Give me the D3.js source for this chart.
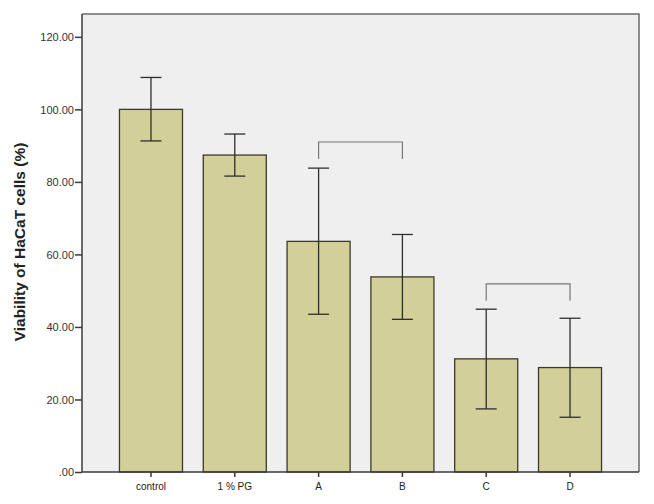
<!DOCTYPE html>
<html>
<head>
<meta charset="utf-8">
<script src="https://cdn.jsdelivr.net/npm/d3@7"></script>
<style>
  html, body { margin: 0; padding: 0; background: #ffffff; }
  svg { display: block; }
</style>
</head>
<body>
<svg id="chart" width="654" height="504"></svg>
<script>
// ---- data ----
const categories = ["control", "1 % PG", "A", "B", "C", "D"];
const means      = [100.0, 87.4, 63.6, 53.8, 31.2, 28.8];
const errUpper   = [108.8, 93.2, 83.8, 65.5, 44.9, 42.4];
const errLower   = [91.3, 81.6, 43.5, 42.1, 17.4, 15.1];
const yTicks     = [0, 20, 40, 60, 80, 100, 120];
const yTickLabels = [".00", "20.00", "40.00", "60.00", "80.00", "100.00", "120.00"];
const brackets = [
  { from: "A", to: "B", top: 91.0, bottom: 86.3 },
  { from: "C", to: "D", top: 51.9, bottom: 47.2 }
];
const yLabel = "Viability of HaCaT cells (%)";

// ---- layout ----
const svg = d3.select("#chart");
const pL = 82, pR = 639, pT = 14, pB = 472;

const x = d3.scaleBand().domain(categories).range([pL, pR])
  .paddingInner(0.248).paddingOuter(0.447);
const y = d3.scaleLinear().domain([0, 126.3]).range([pB, pT]);

// plot background
svg.append("rect").attr("x", pL).attr("y", pT)
  .attr("width", pR - pL).attr("height", pB - pT)
  .attr("fill", "#efefef").attr("stroke", "none");

// top/right border
svg.append("path")
  .attr("d", `M${pL},${pT}H${pR}V${pB}`)
  .attr("fill", "none").attr("stroke", "#6a6a6a").attr("stroke-width", 1.5);

// bars
svg.append("g").selectAll("rect").data(categories).join("rect")
  .attr("x", d => x(d))
  .attr("y", (d, i) => y(means[i]))
  .attr("width", x.bandwidth())
  .attr("height", (d, i) => y(0) - y(means[i]))
  .attr("fill", "#d2cf98")
  .attr("stroke", "#3b3a2c").attr("stroke-width", 1.3);

// error bars
const capW = 21;
const eg = svg.append("g").attr("stroke", "#2e2e2e").attr("stroke-width", 1.3).attr("fill", "none");
categories.forEach((c, i) => {
  const cx = x(c) + x.bandwidth() / 2;
  eg.append("line").attr("x1", cx).attr("x2", cx).attr("y1", y(errUpper[i])).attr("y2", y(errLower[i]));
  eg.append("line").attr("x1", cx - capW / 2).attr("x2", cx + capW / 2).attr("y1", y(errUpper[i])).attr("y2", y(errUpper[i]));
  eg.append("line").attr("x1", cx - capW / 2).attr("x2", cx + capW / 2).attr("y1", y(errLower[i])).attr("y2", y(errLower[i]));
});

// brackets
brackets.forEach(b => {
  const x1 = x(b.from) + x.bandwidth() / 2;
  const x2 = x(b.to) + x.bandwidth() / 2;
  svg.append("path")
    .attr("d", `M${x1},${y(b.bottom)}V${y(b.top)}H${x2}V${y(b.bottom)}`)
    .attr("fill", "none").attr("stroke", "#777777").attr("stroke-width", 1.2);
});

// y axis
const yAxis = d3.axisLeft(y).tickValues(yTicks)
  .tickFormat((d, i) => yTickLabels[i]).tickSize(7).tickSizeOuter(0);
const gy = svg.append("g").attr("transform", `translate(${pL},0)`).call(yAxis);
gy.select(".domain").attr("stroke", "#3a3a3a").attr("stroke-width", 1.5)
  .attr("d", `M0,${pT}V${pB}`);
gy.selectAll(".tick line").attr("stroke", "#3a3a3a").attr("stroke-width", 1.5);
gy.selectAll(".tick text").attr("fill", "#333").attr("font-family", "Arial, 'Liberation Sans', sans-serif")
  .attr("font-size", 11).attr("x", -8).attr("dy", "0.35em");

// x axis
const xAxis = d3.axisBottom(x).tickSize(5).tickSizeOuter(0);
const gx = svg.append("g").attr("transform", `translate(0,${pB})`).call(xAxis);
gx.select(".domain").attr("stroke", "#3a3a3a").attr("stroke-width", 1.5)
  .attr("d", `M${pL},0H${pR}`);
gx.selectAll(".tick line").attr("stroke", "#3a3a3a").attr("stroke-width", 1.5);
gx.selectAll(".tick text").attr("fill", "#222").attr("font-family", "Arial, 'Liberation Sans', sans-serif")
  .attr("font-size", 10).attr("y", 11);

// y label
svg.append("text")
  .attr("transform", `translate(25,242) rotate(-90)`)
  .attr("text-anchor", "middle")
  .attr("font-family", "Arial, 'Liberation Sans', sans-serif")
  .attr("font-weight", "bold").attr("font-size", 15.5).attr("fill", "#222")
  .text(yLabel);
</script>
</body>
</html>
